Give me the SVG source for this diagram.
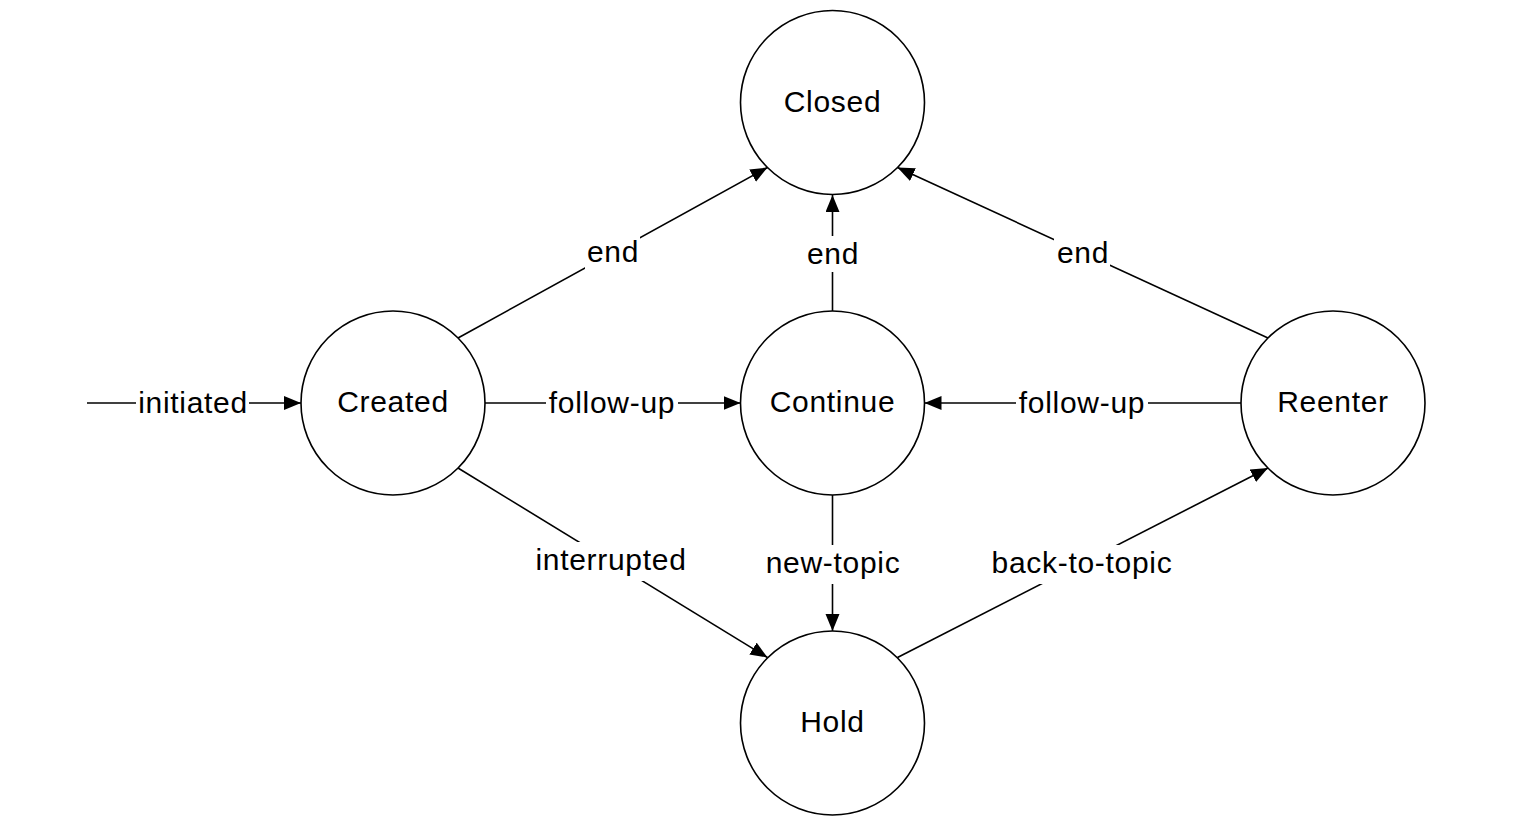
<svg xmlns="http://www.w3.org/2000/svg" width="1530" height="834" viewBox="0 0 1530 834">
<style>
.node{fill:#fff;stroke:#000;stroke-width:1.6}
.edge{fill:none;stroke:#000;stroke-width:1.6;marker-end:url(#arrow)}
.t{font-family:"Liberation Sans",Arial,sans-serif;font-size:30px;letter-spacing:0.7px;fill:#000;text-anchor:middle}
.bg{fill:#fff;stroke:none}
</style>
<defs>
<marker id="arrow" markerUnits="userSpaceOnUse" markerWidth="18" markerHeight="15" refX="17" refY="7" orient="auto">
<path d="M0,0 L17,7 L0,14 z" fill="#000"/>
</marker>
</defs>
<rect width="1530" height="834" fill="#fff"/>
<g id="connectors">
<g id="e-initiated"><path class="edge" d="M87,403 L301,403"/><rect class="bg" x="136" y="385" width="113" height="38"/><text class="t" x="193" y="413">initiated</text></g>
<g id="e-created-closed"><path class="edge" d="M458,338 L767.5,167.5"/><rect class="bg" x="585" y="234" width="55" height="36"/><text class="t" x="613" y="261.5">end</text></g>
<g id="e-continue-closed"><path class="edge" d="M832.5,311 L832.5,195"/><rect class="bg" x="805" y="236" width="55" height="36"/><text class="t" x="833" y="264">end</text></g>
<g id="e-reenter-closed"><path class="edge" d="M1268,338 L897.5,167.5"/><rect class="bg" x="1054" y="235" width="56" height="36"/><text class="t" x="1083" y="263">end</text></g>
<g id="e-created-continue"><path class="edge" d="M485,403 L740.5,403"/><rect class="bg" x="546" y="385" width="132" height="38"/><text class="t" x="612" y="413">follow-up</text></g>
<g id="e-reenter-continue"><path class="edge" d="M1241,403 L924.5,403"/><rect class="bg" x="1016" y="385" width="132" height="38"/><text class="t" x="1082" y="413">follow-up</text></g>
<g id="e-created-hold"><path class="edge" d="M458,468 L767.5,657.5"/><rect class="bg" x="533" y="542" width="155" height="39"/><text class="t" x="611" y="570">interrupted</text></g>
<g id="e-continue-hold"><path class="edge" d="M832.5,495 L832.5,631"/><rect class="bg" x="763" y="545" width="139" height="39"/><text class="t" x="833" y="573">new-topic</text></g>
<g id="e-hold-reenter"><path class="edge" d="M897.5,657.5 L1268,468"/><rect class="bg" x="989" y="545" width="185" height="39"/><text class="t" x="1082" y="573">back-to-topic</text></g>
</g>
<g id="closed"><circle class="node" cx="832.5" cy="102.5" r="92"/><text class="t" x="832.5" y="112">Closed</text></g>
<g id="created"><circle class="node" cx="393" cy="403" r="92"/><text class="t" x="393" y="412">Created</text></g>
<g id="continue"><circle class="node" cx="832.5" cy="403" r="92"/><text class="t" x="832.5" y="412">Continue</text></g>
<g id="reenter"><circle class="node" cx="1333" cy="403" r="92"/><text class="t" x="1333" y="412">Reenter</text></g>
<g id="hold"><circle class="node" cx="832.5" cy="723" r="92"/><text class="t" x="832.5" y="732">Hold</text></g>
</svg>
